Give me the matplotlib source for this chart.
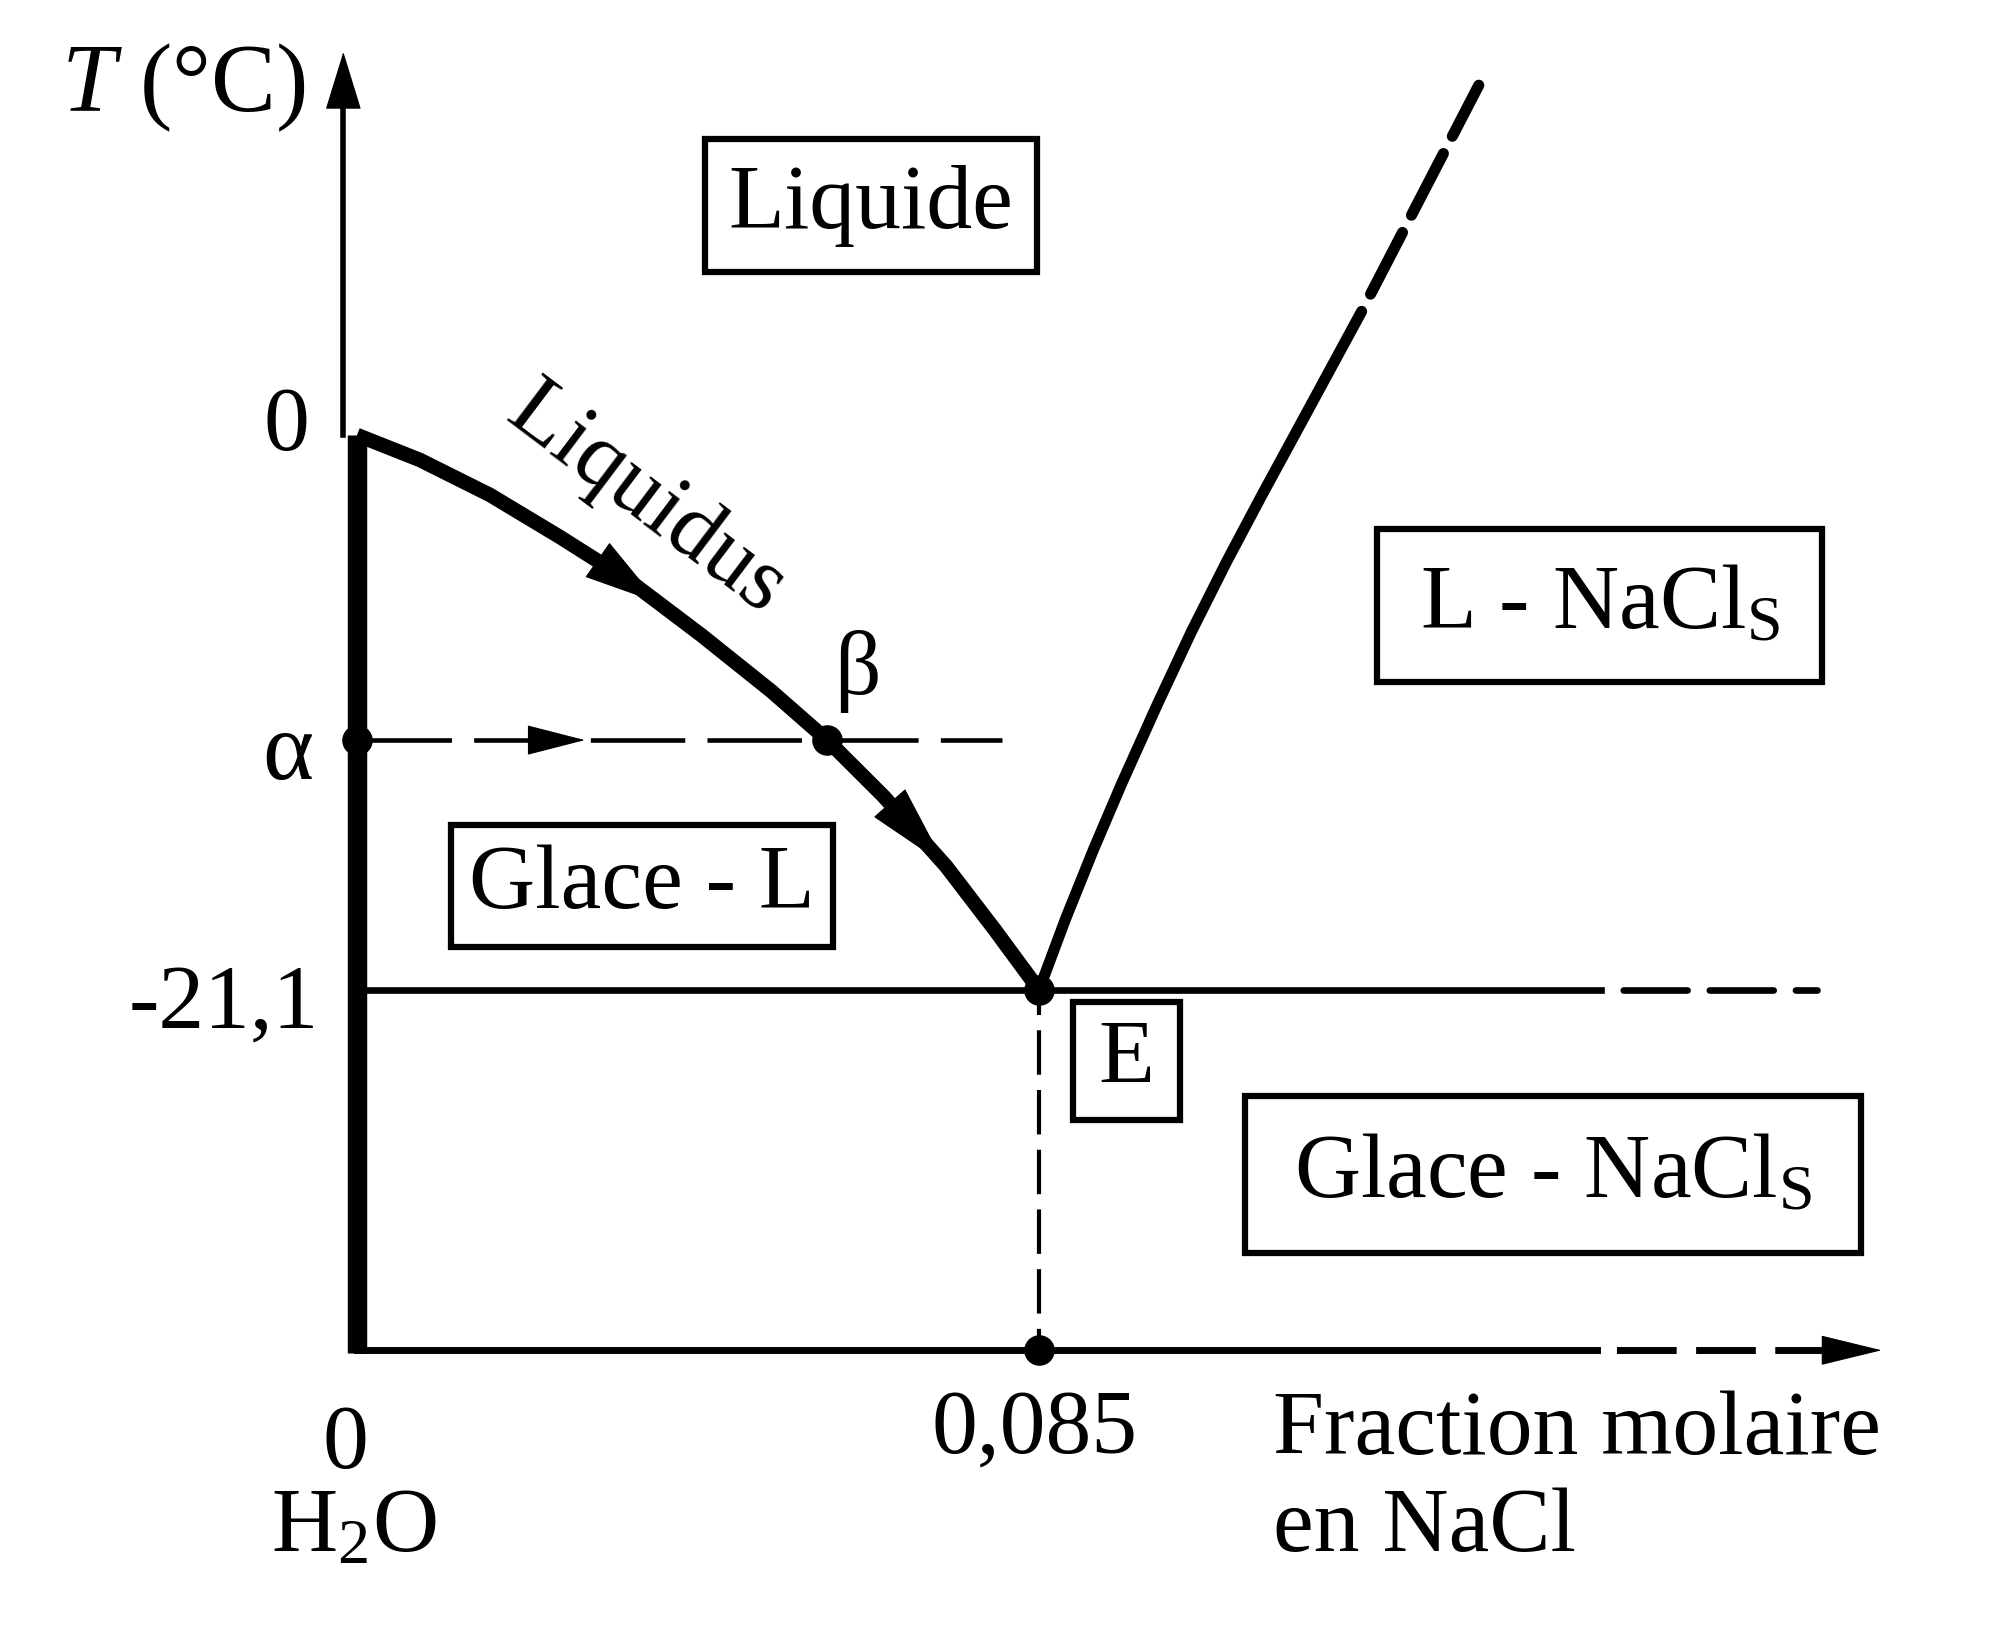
import numpy as np
import matplotlib
matplotlib.use("Agg")
import matplotlib.pyplot as plt
from matplotlib.patches import Rectangle

plt.rcParams['font.family'] = ['Liberation Serif', 'DejaVu Serif']
plt.rcParams['mathtext.fontset'] = 'custom'
plt.rcParams['mathtext.rm'] = 'Liberation Serif'
plt.rcParams['mathtext.it'] = 'Liberation Serif:italic'
plt.rcParams['lines.scale_dashes'] = False

# --- data (x = fraction molaire NaCl, T in degC) ---
X_E = 0.085
T_E = -21.1
T_ALPHA = -11.6
T_BOTTOM = -34.8
T_TOP = 14.56
X_END = 0.19

liquidus_x = [0.0, 0.00785, 0.01658, 0.0253, 0.03415, 0.04287, 0.0516, 0.0586,
              0.0656, 0.0734, 0.0795, 0.085]
liquidus_t = [0.0, -0.95, -2.28, -3.88, -5.59, -7.60, -9.73, -11.6,
              -13.73, -16.39, -18.82, -21.1]

nacl_x = [0.085, 0.0883, 0.0918, 0.0953, 0.0997, 0.1040, 0.1084, 0.1128, 0.1172, 0.1212, 0.1252]
nacl_t = [-21.1, -18.4, -15.75, -13.25, -10.27, -7.47, -4.80, -2.27, 0.2, 2.45, 4.7]
nacl_dash_x = [0.1252, 0.1398]
nacl_dash_t = [4.7, 13.3]

x_beta = 0.0586
x_alpha_end = 0.0804
x_eut_solid = 0.155
x_eut_end = 0.182
x_axis_solid = 0.1545
arrow_tips_x = [0.0376, 0.0733]

FS = 66


def arrow_head(ax, tip, direction, length, half_width):
    """ Filled arrow head at tip (data), pointing along direction (display units). """
    d = np.asarray(direction, float)
    d = d / np.hypot(*d)
    ax.annotate("", xy=tip, xytext=(-d[0] * length, -d[1] * length),
                textcoords="offset points",
                arrowprops=dict(arrowstyle=f"-|>,head_length={length},head_width={half_width}",
                                mutation_scale=1, lw=0.8, color="black",
                                shrinkA=0, shrinkB=0))


def label_box(ax, x0, x1, t0, t1, text):
    ax.add_patch(Rectangle((x0, t1), x1 - x0, t0 - t1, fill=False, lw=4.5, ec="black",
                           joinstyle="miter"))
    ax.text((x0 + x1) / 2, (t0 + t1) / 2, text, ha="center", va="center", fontsize=FS)


fig = plt.figure(figsize=(20.16, 16.28), dpi=100)
ax = fig.add_axes([0, 0, 1, 1])
ax.set_xlim(-0.04449, 0.20675)
ax.set_ylim(-45.36, 16.54)
ax.axis("off")

# axes of the diagram
ax.plot([0, 0], [0, T_BOTTOM - 0.12], color="black", lw=14, solid_capstyle="butt")
ax.plot([-0.0017, -0.0017], [0, T_TOP - 2.0], color="black", lw=4)
ax.plot([0, x_axis_solid], [T_BOTTOM, T_BOTTOM], color="black", lw=5)
ax.plot([x_axis_solid, X_END - 0.006], [T_BOTTOM, T_BOTTOM], color="black", lw=5,
        linestyle=(43, (43, 14)))

# eutectic line
ax.plot([0, x_eut_solid], [T_E, T_E], color="black", lw=4.8)
ax.plot([x_eut_solid, x_eut_end], [T_E, T_E], color="black", lw=4.8,
        linestyle=(46, (46, 16)), dash_capstyle="round")

# liquidus branches
ax.plot(liquidus_x, liquidus_t, color="black", lw=10.5,
        solid_joinstyle="round", solid_capstyle="butt")
ax.plot(nacl_x, nacl_t, color="black", lw=8, solid_joinstyle="round", solid_capstyle="round")
ax.plot(nacl_dash_x, nacl_dash_t, color="black", lw=8,
        linestyle=(50, (50, 14)), dash_capstyle="round")

# cooling path alpha -> beta and eutectic composition
ax.plot([0, x_alpha_end], [T_ALPHA, T_ALPHA], color="black", lw=3.3, linestyle=(0, (68, 16)))
ax.plot([X_E, X_E], [T_E, T_BOTTOM], color="black", lw=3, linestyle=(14, (32, 11)))

# points
ax.plot([0, x_beta, X_E, X_E], [T_ALPHA, T_ALPHA, T_E, T_BOTTOM], "o",
        color="black", ms=21)

# arrow heads
arrow_head(ax, (-0.0017, T_TOP), (0, 1), 39, 12)
arrow_head(ax, (X_END, T_BOTTOM), (1, 0), 41, 10)
arrow_head(ax, (0.0284, T_ALPHA), (1, 0), 39, 10)
for xt, hl in zip(arrow_tips_x, [52, 58]):
    tt = np.interp(xt, liquidus_x, liquidus_t)
    xb = xt - 0.006
    tb = np.interp(xb, liquidus_x, liquidus_t)
    p1 = ax.transData.transform((xt, tt))
    p0 = ax.transData.transform((xb, tb))
    arrow_head(ax, (xt, tt), p1 - p0, hl, 14.5)

# axis labels
ax.text(-0.0216, 13.2, r"$T$ (°C)", ha="center", va="center", fontsize=FS + 4)
ax.text(-0.0059, 0.27, "0", ha="right", va="center", fontsize=FS)
ax.text(-0.0055, -12.2, "α", ha="right", va="center", fontsize=FS + 4)
ax.text(-0.0047, -21.7, "-21,1", ha="right", va="center", fontsize=FS)
ax.text(-0.0015, -38.44, "0", ha="center", va="center", fontsize=FS)
ax.text(-0.0004, -41.6, r"H$_2$O", ha="center", va="center", fontsize=FS)
ax.text(0.0845, -37.83, "0,085", ha="center", va="center", fontsize=FS)
ax.text(0.1142, -37.9, "Fraction molaire", ha="left", va="center", fontsize=FS)
ax.text(0.1142, -41.6, "en NaCl", ha="left", va="center", fontsize=FS)
ax.text(0.036, -2.47, "Liquidus", ha="center", va="center", fontsize=FS,
        rotation=-37, rotation_mode="anchor")
ax.text(0.0624, -9.0, "β", ha="center", va="center", fontsize=FS)

# phase labels
label_box(ax, 0.04337, 0.08475, 11.25, 6.20, "Liquide")
label_box(ax, 0.01171, 0.05932, -14.83, -19.47, "Glace - L")
label_box(ax, 0.12712, 0.18258, -3.57, -9.39, r"L - NaCl$_\mathrm{S}$")
label_box(ax, 0.08923, 0.10257, -21.56, -26.05, "E")
label_box(ax, 0.11067, 0.18744, -25.13, -31.10, r"Glace - NaCl$_\mathrm{S}$")

fig.savefig("out.png", dpi=100, facecolor="white")
